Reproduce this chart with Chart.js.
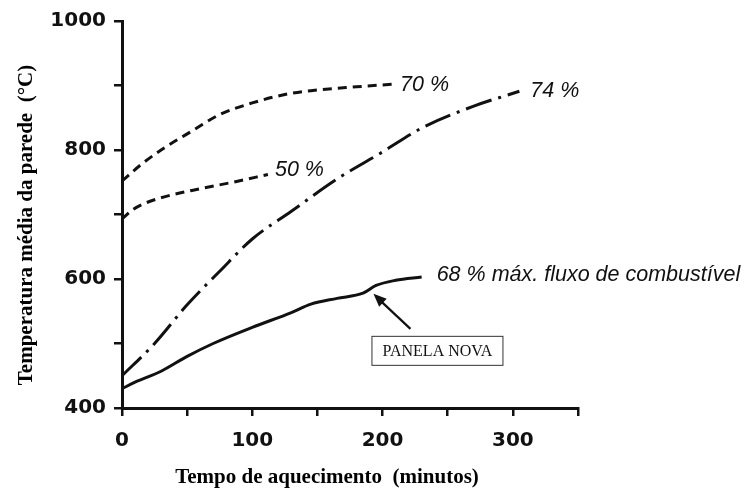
<!DOCTYPE html>
<html>
<head>
<meta charset="utf-8">
<script src="https://cdn.jsdelivr.net/npm/chart.js@4/dist/chart.umd.min.js"></script>
<style>
  html, body { margin: 0; padding: 0; background: #fff; }
  #wrap { width: 747px; height: 492px; }
</style>
</head>
<body>
<div id="wrap"><canvas id="c" width="747" height="492"></canvas></div>
<script>
// ---- data ----
const minutes70 = [0, 15, 30, 55, 75, 100, 125, 145, 180, 208];
const temp70    = [752, 778, 800, 831, 855, 873, 886, 892, 898, 902];

const minutes50 = [0, 8, 16, 30, 60, 85, 112];
const temp50    = [693, 707, 716, 726, 740, 750, 762];

const minutes74 = [0, 25, 50, 75, 100, 130, 165, 200, 230, 270, 305];
const temp74    = [450, 500, 560, 612, 662, 705, 755, 797, 834, 868, 891];

const minutes68 = [0, 10, 30, 50, 70, 100, 130, 145, 165, 185, 195, 210, 230];
const temp68    = [430, 440, 457, 480, 500, 525, 548, 561, 570, 578, 590, 598, 603];

const seriesLabels = ['70 %', '50 %', '74 %', '68 % máx. fluxo de combustível'];
const xTickLabels = [0, 100, 200, 300];
const yTickLabels = [400, 600, 800, 1000];
const annotationText = 'PANELA NOVA';
const annotationPoint = [193, 577];
const xTitle = 'Tempo de aquecimento  (minutos)';
const yTitle = 'Temperatura média da parede  (°C)';

function pts(xs, ys) { return xs.map((x, i) => ({ x: x, y: ys[i] })); }

const INK = '#111';

// labels at curve ends + arrow/box annotation + axis titles
const endLabels = {
  id: 'endLabels',
  afterDatasetsDraw(chart) {
    const ctx = chart.ctx;
    const xs = chart.scales.x, ys = chart.scales.y;
    const offsets = [[7, 1], [7, -4], [11, 0], [15, -2]];
    ctx.save();
    ctx.fillStyle = INK;
    ctx.font = 'italic 21.5px "Liberation Sans", Arial, sans-serif';
    ctx.textBaseline = 'middle';
    ctx.textAlign = 'left';
    chart.data.datasets.forEach((ds, i) => {
      const last = ds.data[ds.data.length - 1];
      const px = xs.getPixelForValue(last.x) + offsets[i][0];
      const py = ys.getPixelForValue(last.y) + offsets[i][1];
      ctx.fillText(ds.label, px, py);
    });
    // arrow
    const tx = xs.getPixelForValue(annotationPoint[0]);
    const ty = ys.getPixelForValue(annotationPoint[1]);
    const sx = tx + 37, sy = ty + 35;
    ctx.strokeStyle = INK;
    ctx.lineWidth = 2.2;
    ctx.beginPath();
    ctx.moveTo(sx, sy);
    ctx.lineTo(tx + 5, ty + 5);
    ctx.stroke();
    const ang = Math.atan2(ty - sy, tx - sx);
    const L = 13, W = 5.5;
    ctx.beginPath();
    ctx.moveTo(tx, ty);
    ctx.lineTo(tx - L * Math.cos(ang) + W * Math.sin(ang), ty - L * Math.sin(ang) - W * Math.cos(ang));
    ctx.lineTo(tx - L * Math.cos(ang) - W * Math.sin(ang), ty - L * Math.sin(ang) + W * Math.cos(ang));
    ctx.closePath();
    ctx.fill();
    // box
    const bx = tx - 2, by = ty + 42, bw = 131, bh = 29;
    ctx.fillStyle = '#fff';
    ctx.fillRect(bx, by, bw, bh);
    ctx.strokeStyle = '#333';
    ctx.lineWidth = 1;
    ctx.strokeRect(bx + 0.5, by + 0.5, bw, bh);
    ctx.fillStyle = INK;
    ctx.font = '16px "Liberation Serif", "Times New Roman", serif';
    ctx.textAlign = 'center';
    ctx.fillText(annotationText, bx + bw / 2 + 0.5, by + bh / 2 + 1);

    // axis titles
    ctx.fillStyle = '#000';
    ctx.font = 'bold 21px "Liberation Serif", "Times New Roman", serif';
    ctx.textAlign = 'center';
    ctx.textBaseline = 'middle';
    ctx.fillText(xTitle, 327, 478);
    ctx.translate(27, 225);
    ctx.rotate(-Math.PI / 2);
    ctx.fillText(yTitle, 0, 0);
    ctx.restore();
  }
};

const whiteBg = {
  id: 'whiteBg',
  beforeDraw(chart) {
    const ctx = chart.ctx;
    ctx.save();
    ctx.fillStyle = '#fff';
    ctx.fillRect(0, 0, chart.width, chart.height);
    ctx.restore();
  }
};

const common = {
  showLine: true,
  borderColor: INK,
  backgroundColor: INK,
  borderWidth: 3,
  pointRadius: 0,
  pointHoverRadius: 0,
  fill: false,
  tension: 0.4,
  cubicInterpolationMode: 'monotone',
  borderCapStyle: 'butt'
};

new Chart(document.getElementById('c'), {
  type: 'scatter',
  data: {
    datasets: [
      Object.assign({}, common, { label: seriesLabels[0], data: pts(minutes70, temp70), borderDash: [9, 6] }),
      Object.assign({}, common, { label: seriesLabels[1], data: pts(minutes50, temp50), borderDash: [9, 6] }),
      Object.assign({}, common, { label: seriesLabels[2], data: pts(minutes74, temp74), borderDash: [27, 7, 3, 7] }),
      Object.assign({}, common, { label: seriesLabels[3], data: pts(minutes68, temp68) })
    ]
  },
  options: {
    responsive: false,
    animation: false,
    devicePixelRatio: 1,
    layout: { padding: { left: 0, top: 21, right: 169, bottom: 0 } },
    plugins: { legend: { display: false }, tooltip: { enabled: false } },
    scales: {
      x: {
        type: 'linear',
        min: 0, max: 350,
        afterFit(s) { s.height = 84; },
        border: { display: true, color: INK, width: 3 },
        grid: { display: true, drawOnChartArea: false, drawTicks: true, tickLength: 8, color: INK, lineWidth: 2.5 },
        ticks: {
          stepSize: 50,
          padding: 13,
          color: INK,
          font: { family: '"DejaVu Sans", sans-serif', size: 20, weight: 'bold' },
          maxRotation: 0,
          autoSkip: false,
          callback: (v) => xTickLabels.includes(v) ? String(v) : ''
        },
        title: { display: false, text: xTitle }
      },
      y: {
        type: 'linear',
        min: 400, max: 1000,
        afterFit(s) { s.width = 122; },
        border: { display: true, color: INK, width: 3 },
        grid: { display: true, drawOnChartArea: false, drawTicks: true, tickLength: 8, color: INK, lineWidth: 2.5 },
        ticks: {
          stepSize: 100,
          padding: 8,
          color: INK,
          font: { family: '"DejaVu Sans", sans-serif', size: 20, weight: 'bold' },
          autoSkip: false,
          callback: (v) => yTickLabels.includes(v) ? String(v) : ''
        },
        title: { display: false, text: yTitle }
      }
    }
  },
  plugins: [whiteBg, endLabels]
});
</script>
</body>
</html>
